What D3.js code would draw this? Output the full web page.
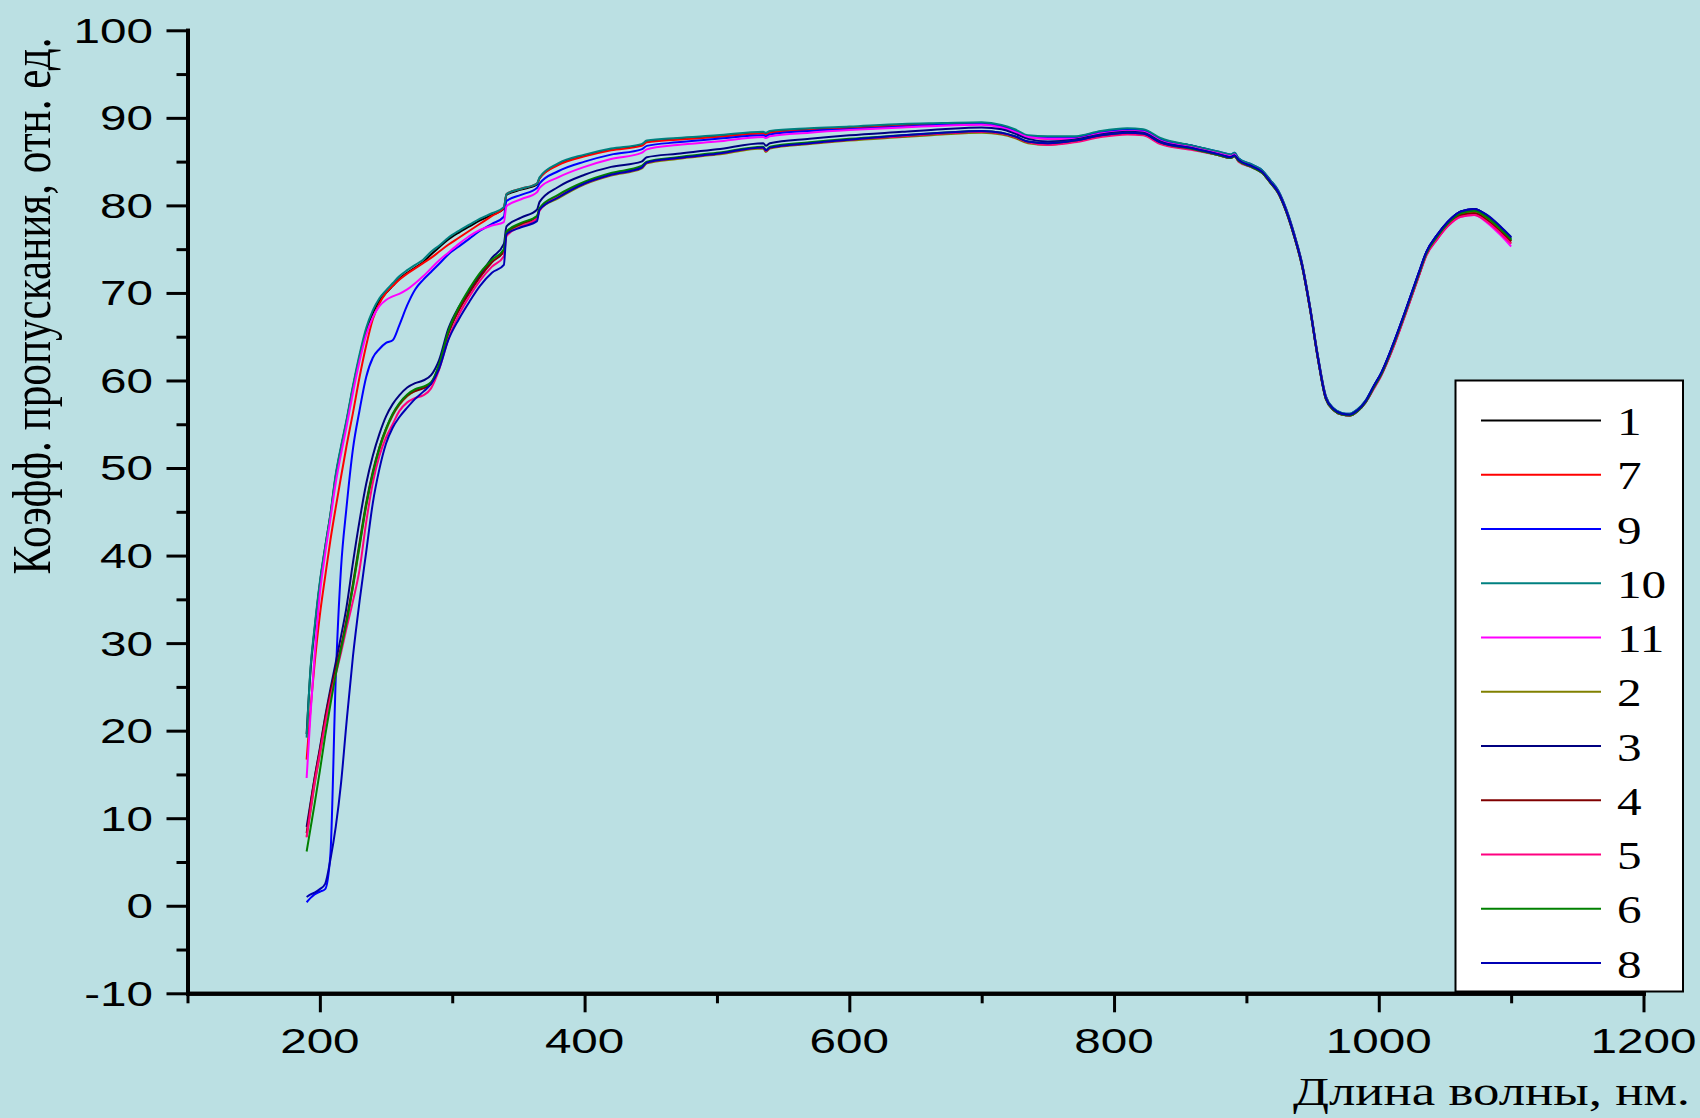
<!DOCTYPE html>
<html>
<head>
<meta charset="utf-8">
<script src="https://cdn.jsdelivr.net/npm/d3@7"></script>
<style>
  html, body { margin: 0; padding: 0; background: #bbe0e3; }
  svg { display: block; }
</style>
</head>
<body>
<svg id="chart" width="1700" height="1118"></svg>
<script>
// Wavelength grid, nm
const wavelength = [
  190, 193, 196, 200, 204, 208, 212, 216, 220, 225, 230, 235, 240, 245, 250, 255, 260, 266, 272, 278, 284, 290, 297, 305, 313, 321, 330, 339, 341, 352, 364, 366,
  380, 400, 420, 443, 447, 470, 500, 535, 537, 540, 570, 600, 640, 670, 700, 715, 725, 735, 750,
  770, 790, 810, 822, 835, 860, 880, 888, 891, 894, 905, 912, 918, 924, 930, 936, 942, 948, 954, 960, 966, 972, 978, 984, 990, 996, 1002, 1010, 1020, 1030, 1036, 1044, 1052, 1062, 1072, 1082, 1092, 1100
];

// Transmission coefficient of each sample, rel. units
const s1 = [
  19.6, 27.0, 31.5, 36.8, 40.9, 44.7, 49.1, 52.3, 55.2, 59.2, 62.7, 65.7, 67.7, 69.1, 70.0, 70.8, 71.6, 72.3, 72.9, 73.5, 74.4, 75.2, 76.1, 76.9, 77.6, 78.3, 78.9, 79.6, 81.2, 81.8, 82.4, 83.1,
  84.7, 85.7, 86.4, 86.9, 87.3, 87.6, 87.9, 88.3, 88.2, 88.4, 88.7, 88.9, 89.2, 89.3, 89.4, 89.1, 88.6, 87.9, 87.8,
  87.8, 88.4, 88.7, 88.6, 87.6, 86.8, 86.0, 85.7, 85.9, 85.3, 84.5, 83.9, 82.8, 81.6, 79.5, 76.7, 73.3, 68.4, 62.7, 58.1, 56.7, 56.2, 56.1, 56.6, 57.6, 59.2, 60.8, 63.6, 67.7, 72.0, 74.5, 76.4, 77.9, 79.0, 79.3, 78.5, 77.2, 76.0
];
const s7 = [
  16.7, 22.6, 27.6, 33.2, 37.6, 41.8, 45.5, 49.0, 52.4, 56.3, 60.4, 64.0, 67.0, 68.8, 70.0, 70.8, 71.5, 72.2, 72.8, 73.4, 74.0, 74.7, 75.5, 76.3, 77.1, 77.9, 78.8, 79.7, 81.3, 81.9, 82.5, 83.1,
  84.6, 85.6, 86.3, 86.8, 87.2, 87.5, 87.8, 88.2, 88.1, 88.3, 88.6, 88.8, 89.1, 89.2, 89.3, 89.0, 88.5, 87.8, 87.6,
  87.7, 88.3, 88.6, 88.5, 87.5, 86.7, 86.0, 85.7, 85.9, 85.3, 84.5, 83.9, 82.8, 81.6, 79.5, 76.7, 73.3, 68.4, 62.7, 58.1, 56.7, 56.2, 56.1, 56.6, 57.6, 59.1, 60.7, 63.5, 67.6, 71.9, 74.4, 76.2, 77.7, 78.8, 79.0, 78.2, 76.9, 75.7
];
const s9 = [
  0.4, 0.9, 1.3, 1.6, 1.9, 6.0, 26.0, 38.6, 45.3, 52.2, 56.6, 60.4, 62.6, 63.6, 64.3, 64.6, 66.3, 68.6, 70.4, 71.5, 72.4, 73.3, 74.4, 75.3, 76.2, 77.1, 77.9, 78.7, 80.5, 81.2, 82.0, 82.5,
  83.9, 85.0, 85.8, 86.4, 86.8, 87.2, 87.6, 88.0, 87.9, 88.1, 88.5, 88.7, 89.0, 89.2, 89.3, 89.0, 88.5, 87.9, 87.7,
  87.8, 88.4, 88.7, 88.6, 87.6, 86.8, 86.1, 85.8, 86.0, 85.4, 84.6, 84.0, 82.9, 81.7, 79.6, 76.8, 73.4, 68.5, 62.8, 58.2, 56.8, 56.3, 56.2, 56.7, 57.7, 59.3, 60.9, 63.8, 67.9, 72.2, 74.7, 76.6, 78.1, 79.3, 79.6, 78.8, 77.5, 76.3
];
const s10 = [
  19.2, 27.3, 31.8, 37.0, 41.0, 44.8, 49.3, 52.5, 55.4, 59.4, 63.0, 66.0, 68.0, 69.4, 70.3, 71.1, 71.9, 72.6, 73.2, 73.8, 74.7, 75.4, 76.3, 77.1, 77.8, 78.5, 79.1, 79.8, 81.3, 81.9, 82.5, 83.2,
  84.8, 85.8, 86.5, 87.0, 87.4, 87.7, 88.0, 88.4, 88.3, 88.5, 88.8, 89.0, 89.3, 89.4, 89.5, 89.2, 88.7, 88.0, 87.9,
  87.9, 88.5, 88.8, 88.7, 87.7, 86.8, 86.1, 85.8, 86.0, 85.4, 84.6, 84.0, 82.9, 81.7, 79.6, 76.8, 73.4, 68.5, 62.8, 58.2, 56.8, 56.3, 56.2, 56.7, 57.7, 59.3, 60.9, 63.7, 67.8, 72.1, 74.6, 76.5, 78.0, 79.1, 79.4, 78.6, 77.3, 76.1
];
const s11 = [
  14.6, 22.0, 28.5, 35.6, 40.2, 44.2, 48.3, 51.6, 54.6, 58.6, 62.2, 65.2, 67.2, 68.5, 69.2, 69.6, 69.9, 70.4, 71.1, 71.9, 72.8, 73.7, 74.6, 75.6, 76.5, 77.2, 77.7, 78.1, 79.9, 80.7, 81.5, 82.0,
  83.2, 84.4, 85.3, 86.0, 86.4, 86.9, 87.3, 87.8, 87.7, 87.9, 88.3, 88.6, 88.9, 89.1, 89.2, 88.9, 88.4, 87.8, 87.6,
  87.6, 88.2, 88.5, 88.4, 87.4, 86.6, 85.9, 85.6, 85.8, 85.2, 84.4, 83.8, 82.7, 81.5, 79.4, 76.6, 73.2, 68.3, 62.6, 58.0, 56.6, 56.1, 56.0, 56.5, 57.5, 59.0, 60.6, 63.4, 67.5, 71.8, 74.3, 76.1, 77.6, 78.7, 78.9, 78.0, 76.6, 75.3
];
const s2 = [
  7.9, 10.8, 13.8, 17.2, 20.8, 24.0, 26.8, 29.4, 32.3, 36.4, 41.0, 45.6, 49.2, 52.1, 54.3, 56.0, 57.2, 58.2, 58.8, 59.2, 59.7, 61.7, 65.4, 68.2, 70.3, 72.1, 73.6, 74.8, 76.8, 77.8, 78.6, 79.5,
  80.8, 82.4, 83.4, 84.2, 84.8, 85.3, 85.8, 86.5, 86.1, 86.5, 87.0, 87.4, 87.8, 88.1, 88.3, 88.1, 87.7, 87.1, 86.9,
  87.3, 87.9, 88.2, 88.1, 87.1, 86.4, 85.7, 85.4, 85.6, 85.1, 84.3, 83.7, 82.6, 81.4, 79.3, 76.5, 73.1, 68.2, 62.5, 57.9, 56.6, 56.1, 56.0, 56.5, 57.5, 59.1, 60.7, 63.5, 67.6, 71.9, 74.4, 76.3, 77.8, 78.9, 79.2, 78.4, 77.1, 75.9
];
const s3 = [
  9.0, 11.8, 14.6, 18.0, 21.6, 24.8, 27.8, 30.8, 34.0, 39.2, 44.0, 48.2, 51.4, 53.9, 55.9, 57.3, 58.3, 59.2, 59.7, 60.0, 60.6, 62.3, 65.9, 68.4, 70.2, 72.0, 74.0, 75.6, 77.6, 78.6, 79.5, 80.4,
  82.1, 83.5, 84.4, 85.0, 85.5, 85.9, 86.4, 87.1, 86.8, 87.1, 87.6, 88.0, 88.4, 88.7, 88.9, 88.7, 88.2, 87.6, 87.3,
  87.5, 88.1, 88.4, 88.3, 87.3, 86.5, 85.8, 85.5, 85.7, 85.2, 84.4, 83.8, 82.7, 81.5, 79.4, 76.6, 73.2, 68.3, 62.6, 58.0, 56.7, 56.2, 56.1, 56.6, 57.6, 59.3, 60.9, 63.8, 67.9, 72.2, 74.7, 76.6, 78.1, 79.3, 79.6, 78.8, 77.5, 76.3
];
const s4 = [
  8.3, 11.6, 14.5, 17.8, 21.4, 24.4, 27.0, 29.6, 32.6, 36.8, 41.5, 46.0, 49.6, 52.4, 54.5, 56.1, 57.3, 58.3, 58.8, 59.1, 59.6, 61.6, 65.3, 68.0, 70.0, 71.8, 73.5, 74.8, 76.9, 77.9, 78.7, 79.6,
  81.0, 82.6, 83.6, 84.4, 84.9, 85.4, 85.9, 86.6, 86.2, 86.6, 87.1, 87.5, 87.9, 88.2, 88.4, 88.2, 87.8, 87.2, 87.0,
  87.3, 87.9, 88.2, 88.1, 87.1, 86.4, 85.7, 85.4, 85.6, 85.1, 84.3, 83.7, 82.6, 81.4, 79.3, 76.5, 73.1, 68.2, 62.5, 57.9, 56.6, 56.1, 56.0, 56.5, 57.5, 59.1, 60.7, 63.5, 67.6, 71.9, 74.4, 76.2, 77.7, 78.9, 79.1, 78.3, 77.0, 75.9
];
const s5 = [
  7.8, 11.0, 14.0, 17.4, 20.8, 23.8, 26.4, 28.9, 31.6, 34.8, 38.4, 43.8, 48.3, 51.4, 53.5, 55.0, 56.5, 57.5, 58.0, 58.3, 59.1, 61.2, 64.7, 67.5, 69.6, 71.4, 73.0, 74.2, 76.5, 77.6, 78.5, 79.4,
  81.0, 82.5, 83.5, 84.3, 84.9, 85.4, 85.9, 86.6, 86.2, 86.6, 87.1, 87.5, 87.9, 88.2, 88.4, 88.2, 87.8, 87.2, 86.9,
  87.2, 87.8, 88.1, 88.0, 87.0, 86.3, 85.7, 85.4, 85.6, 85.0, 84.3, 83.7, 82.6, 81.4, 79.3, 76.5, 73.1, 68.2, 62.5, 57.9, 56.6, 56.1, 56.0, 56.5, 57.5, 59.0, 60.6, 63.4, 67.5, 71.8, 74.3, 76.1, 77.6, 78.7, 78.9, 78.1, 76.8, 75.6
];
const s6 = [
  6.2, 8.9, 11.6, 15.4, 19.4, 23.0, 26.4, 29.3, 32.2, 36.5, 41.2, 45.8, 49.4, 52.3, 54.5, 56.2, 57.4, 58.4, 59.0, 59.3, 59.8, 61.8, 65.6, 68.4, 70.5, 72.3, 73.8, 75.0, 77.0, 78.0, 78.8, 79.7,
  81.2, 82.7, 83.7, 84.5, 85.0, 85.5, 86.0, 86.7, 86.3, 86.7, 87.2, 87.6, 88.0, 88.3, 88.5, 88.3, 87.9, 87.3, 87.1,
  87.4, 88.0, 88.3, 88.2, 87.2, 86.4, 85.7, 85.4, 85.6, 85.1, 84.3, 83.7, 82.6, 81.4, 79.3, 76.5, 73.1, 68.2, 62.5, 57.9, 56.6, 56.1, 56.0, 56.5, 57.5, 59.1, 60.7, 63.6, 67.7, 72.0, 74.5, 76.4, 77.9, 79.1, 79.4, 78.6, 77.3, 76.1
];
const s8 = [
  1.0, 1.3, 1.5, 1.9, 2.5, 5.3, 9.0, 14.0, 20.7, 28.5, 34.8, 40.4, 46.0, 49.9, 52.8, 54.6, 55.8, 56.9, 57.9, 58.7, 59.6, 61.3, 64.6, 67.0, 69.0, 70.8, 72.3, 73.2, 76.7, 77.5, 78.2, 79.5,
  80.9, 82.5, 83.5, 84.3, 84.9, 85.4, 85.9, 86.6, 86.3, 86.6, 87.1, 87.5, 88.0, 88.3, 88.5, 88.3, 87.9, 87.3, 87.1,
  87.4, 88.0, 88.3, 88.2, 87.2, 86.5, 85.8, 85.5, 85.7, 85.2, 84.4, 83.8, 82.7, 81.5, 79.4, 76.6, 73.2, 68.3, 62.6, 58.0, 56.7, 56.2, 56.1, 56.6, 57.6, 59.3, 60.9, 63.8, 67.9, 72.2, 74.7, 76.6, 78.1, 79.3, 79.6, 78.9, 77.6, 76.4
];

// Legend order, names and colours
const seriesNames  = ["1", "7", "9", "10", "11", "2", "3", "4", "5", "6", "8"];
const seriesColors = ["#000000", "#ff0000", "#0000ff", "#008080", "#ff00ff", "#808000", "#000080", "#800000", "#ff0080", "#008000", "#0000b4"];
const seriesValues = [s1, s7, s9, s10, s11, s2, s3, s4, s5, s6, s8];

// Axis ticks
const xMajor = [200, 400, 600, 800, 1000, 1200];
const xMinor = [100, 300, 500, 700, 900, 1100];
const yMajor = [-10, 0, 10, 20, 30, 40, 50, 60, 70, 80, 90, 100];
const yMinor = [-5, 5, 15, 25, 35, 45, 55, 65, 75, 85, 95];

const W = 1700, H = 1118;
const sans = "'Liberation Sans', Arial, sans-serif";
const serif = "'Liberation Serif', 'Times New Roman', serif";
const stretch = 1.36;

const svg = d3.select("#chart");
svg.append("rect").attr("width", W).attr("height", H).attr("fill", "#bbe0e3");

const x = d3.scaleLinear().domain([100, 1200]).range([187.5, 1643.5]);
const y = d3.scaleLinear().domain([-10, 100]).range([993.3, 30.3]);

// Curves
const line = d3.line()
  .x(d => x(d[0]))
  .y(d => y(d[1]))
  .curve(d3.curveMonotoneX);

const series = seriesNames.map((name, i) => ({
  name,
  color: seriesColors[i],
  points: wavelength.map((w, k) => [w, seriesValues[i][k]])
}));

svg.append("g")
  .selectAll("path")
  .data(series)
  .join("path")
  .attr("d", d => line(d.points))
  .attr("fill", "none")
  .attr("stroke", d => d.color)
  .attr("stroke-width", 2)
  .attr("stroke-linejoin", "round");

// Axes
function styleAxis(g, tickWidth) {
  g.selectAll(".domain").attr("stroke", "#000").attr("stroke-width", 4).attr("stroke-linecap", "square");
  g.selectAll(".tick line").attr("stroke", "#000").attr("stroke-width", tickWidth);
  g.selectAll(".tick text").remove();
}

const yAxisG = svg.append("g").attr("transform", `translate(${x(100)},0)`);
yAxisG.append("g")
  .call(d3.axisLeft(y).tickValues(yMinor).tickSize(11).tickSizeOuter(0).tickFormat(""))
  .call(g => styleAxis(g, 3));
yAxisG.append("g")
  .call(d3.axisLeft(y).tickValues(yMajor).tickSize(21).tickSizeOuter(0).tickFormat(""))
  .call(g => styleAxis(g, 3));

const xAxisG = svg.append("g").attr("transform", `translate(0,${y(-10)})`);
xAxisG.append("g")
  .call(d3.axisBottom(x).tickValues(xMinor).tickSize(10).tickSizeOuter(0).tickFormat(""))
  .call(g => styleAxis(g, 3));
xAxisG.append("g")
  .call(d3.axisBottom(x).tickValues(xMajor).tickSize(19).tickSizeOuter(0).tickFormat(""))
  .call(g => styleAxis(g, 3));

// Tick labels
svg.append("g")
  .selectAll("text")
  .data(yMajor)
  .join("text")
  .attr("transform", d => `translate(153,${y(d)}) scale(${stretch},1)`)
  .attr("dy", "0.355em")
  .attr("text-anchor", "end")
  .attr("font-family", sans)
  .attr("font-size", 35)
  .attr("fill", "#000")
  .text(d => d);

svg.append("g")
  .selectAll("text")
  .data(xMajor)
  .join("text")
  .attr("transform", d => `translate(${x(d)},1053) scale(${stretch},1)`)
  .attr("text-anchor", "middle")
  .attr("font-family", sans)
  .attr("font-size", 35)
  .attr("fill", "#000")
  .text(d => d);

// Axis titles
svg.append("text")
  .attr("x", 1293)
  .attr("y", 1105)
  .attr("font-family", serif)
  .attr("font-size", 40)
  .attr("textLength", 397)
  .attr("lengthAdjust", "spacingAndGlyphs")
  .attr("fill", "#000")
  .text("Длина волны, нм.");

svg.append("text")
  .attr("transform", "translate(50,306) rotate(-90)")
  .attr("text-anchor", "middle")
  .attr("font-family", serif)
  .attr("font-size", 54)
  .attr("textLength", 537)
  .attr("lengthAdjust", "spacingAndGlyphs")
  .attr("fill", "#000")
  .text("Коэфф. пропускания, отн. ед.");

// Legend
const legend = svg.append("g");
legend.append("rect")
  .attr("x", 1455.5).attr("y", 380.5)
  .attr("width", 227.5).attr("height", 611)
  .attr("fill", "#fff")
  .attr("stroke", "#000")
  .attr("stroke-width", 2);

const entryY = i => 420.6 + 54.25 * i;
const entries = legend.selectAll("g.entry")
  .data(series)
  .join("g")
  .attr("class", "entry");
entries.append("line")
  .attr("x1", 1481).attr("x2", 1601)
  .attr("y1", (d, i) => entryY(i)).attr("y2", (d, i) => entryY(i))
  .attr("stroke", d => d.color)
  .attr("stroke-width", 2);
entries.append("text")
  .attr("transform", (d, i) => `translate(1617,${entryY(i) + 14.5}) scale(1.2,1)`)
  .attr("font-family", serif)
  .attr("font-size", 41)
  .attr("fill", "#000")
  .text(d => d.name);
</script>
</body>
</html>
